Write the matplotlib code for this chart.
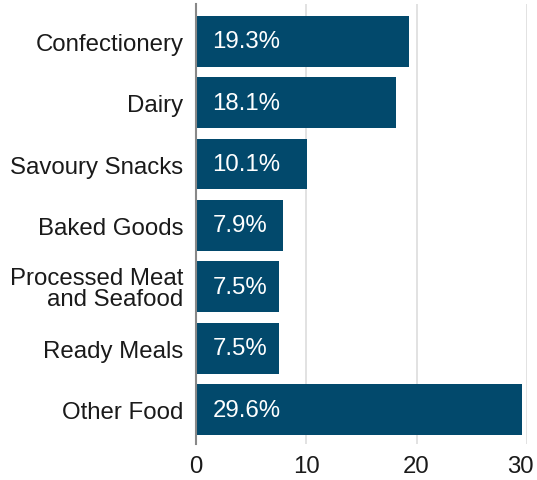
import matplotlib.pyplot as plt
import matplotlib.transforms as mtransforms
import numpy as np

# food categories and their share (%)
categories = ["Confectionery", "Dairy", "Savoury Snacks", "Baked Goods",
              "Processed Meat\nand Seafood", "Ready Meals", "Other Food"]
shares = [19.3, 18.1, 10.1, 7.9, 7.5, 7.5, 29.6]
x_ticks = [0, 10, 20, 30]

bar_color = "#02496c"
text_color = "#1a1a1a"
fs = 17.3

plt.rcParams['font.family'] = ['Liberation Sans', 'DejaVu Sans']
plt.rcParams['font.size'] = fs

fig = plt.figure(figsize=(5.37, 4.81), dpi=100)
ax = fig.add_axes([0.365, 0.075, 0.616, 0.915])

y = np.arange(len(categories))
ax.barh(y, shares, height=0.83, color=bar_color, zorder=3)

# value labels inside the bars
for yi, v in zip(y, shares):
    ax.text(1.5, yi, f"{v:.1f}%", color="white", fontsize=fs,
            va="center", ha="left", zorder=4)

ax.set_yticks(y)
ax.set_yticklabels(categories, color=text_color, fontsize=fs, linespacing=0.95)
ax.set_xticks(x_ticks)
ax.set_xticklabels([str(t) for t in x_ticks], color=text_color, fontsize=fs)
ax.set_xlim(0, 30)
ax.set_ylim(6.56, -0.61)

ax.tick_params(axis='both', length=0)
ax.tick_params(axis='y', pad=9)
ax.tick_params(axis='x', pad=8)

# nudge the last x label so it stays inside the figure
last = ax.get_xticklabels()[-1]
last.set_transform(last.get_transform() +
                   mtransforms.ScaledTranslation(-6 / 100, 0, fig.dpi_scale_trans))

# vertical grid
ax.grid(axis='x', color="#dddddd", linewidth=1.2, zorder=0)
ax.set_axisbelow(True)

for s in ["top", "right", "bottom"]:
    ax.spines[s].set_visible(False)
ax.spines["left"].set_color("#888888")
ax.spines["left"].set_linewidth(1.5)
ax.spines["left"].set_zorder(5)

fig.savefig("out.png", dpi=100)
